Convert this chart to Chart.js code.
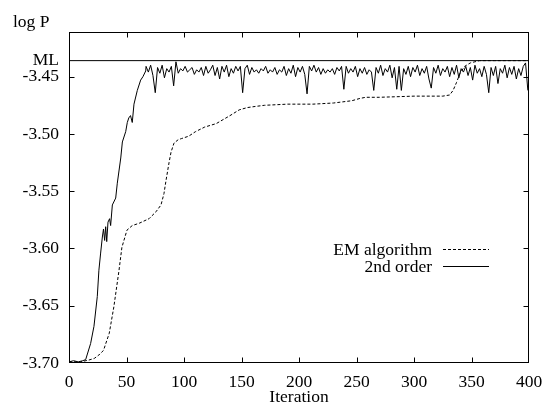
<!DOCTYPE html>
<html>
<head>
<meta charset="utf-8">
<title>log P vs Iteration</title>
<script src="https://cdn.jsdelivr.net/npm/chart.js@4.4.0/dist/chart.umd.min.js"></script>
<style>
  html, body { margin: 0; padding: 0; background: #fff; }
  #wrap { width: 542px; height: 404px; }
</style>
</head>
<body>
<div id="wrap"><canvas id="logpChart" width="542" height="404"></canvas></div>
<script>
// values
const mlValue = -3.436;

const xTicks = [0, 50, 100, 150, 200, 250, 300, 350, 400];
const yTicks = [-3.70, -3.65, -3.60, -3.55, -3.50, -3.45];

// EM algorithm (dashed)
const emIter = [0, 10, 17, 22, 26, 30, 35, 39, 43.5, 46, 50.4, 55, 61, 69.6, 75.6, 80, 82.6, 84.3,
    87, 88.7, 91.3, 95, 98, 104, 110, 118, 128, 140, 148, 155, 162, 170, 190, 212, 230, 238,
    246, 253, 258, 270, 300, 325, 331, 334, 337, 340, 344, 349, 353, 357, 370, 400];
const emLogP = [-3.699, -3.699, -3.6975, -3.696, -3.693, -3.689, -3.674, -3.651, -3.619, -3.599, -3.584, -3.580, -3.578, -3.574, -3.568, -3.562, -3.552, -3.541,
    -3.525, -3.516, -3.508, -3.505, -3.504, -3.502, -3.498, -3.494, -3.491, -3.484, -3.479, -3.477, -3.476, -3.475, -3.474, -3.474, -3.473, -3.472,
    -3.471, -3.469, -3.468, -3.468, -3.467, -3.467, -3.466, -3.462, -3.455, -3.447, -3.441, -3.438, -3.437, -3.436, -3.436, -3.436];

// 2nd order, the steep rise
const riseIter = [0, 4, 8, 12, 14.5, 18.8, 21.7, 24.6, 26, 27.5, 29, 30, 31, 31.9, 32.8, 33.9, 35.3, 36.2,
    37.7, 40.6, 42, 45, 46.4, 49.3, 50.7, 52, 53.5, 55, 56.5, 59.4, 62.3, 64.3, 66.7];
const riseLogP = [-3.699, -3.698, -3.699, -3.698, -3.697, -3.683, -3.668, -3.642, -3.619, -3.604, -3.590, -3.583, -3.593, -3.581, -3.594, -3.577, -3.574, -3.580,
    -3.562, -3.556, -3.543, -3.521, -3.507, -3.498, -3.490, -3.486, -3.484, -3.490, -3.474, -3.462, -3.453, -3.450, -3.445];

// 2nd order, the noisy plateau, every 2nd iteration from 67
const plateauStart = 67;
const plateauLogP = [
    -3.441, -3.446, -3.440, -3.449, -3.464, -3.442, -3.447, -3.440, -3.451, -3.443,
    -3.446, -3.441, -3.458, -3.437, -3.447, -3.443, -3.445, -3.441, -3.446, -3.444,
    -3.442, -3.448, -3.444, -3.446, -3.442, -3.449, -3.441, -3.447, -3.444, -3.440,
    -3.449, -3.442, -3.452, -3.441, -3.446, -3.440, -3.450, -3.443, -3.447, -3.441,
    -3.445, -3.441, -3.464, -3.443, -3.440, -3.448, -3.442, -3.446, -3.444, -3.447,
    -3.443, -3.445, -3.441, -3.447, -3.444, -3.446, -3.442, -3.448, -3.444, -3.446,
    -3.441, -3.449, -3.443, -3.447, -3.440, -3.450, -3.442, -3.446, -3.441, -3.448,
    -3.465, -3.441, -3.445, -3.440, -3.446, -3.442, -3.448, -3.443, -3.447, -3.444,
    -3.446, -3.443, -3.448, -3.442, -3.445, -3.441, -3.461, -3.441, -3.447, -3.443,
    -3.446, -3.441, -3.450, -3.443, -3.447, -3.442, -3.448, -3.444, -3.446, -3.462,
    -3.442, -3.447, -3.440, -3.449, -3.443, -3.446, -3.440, -3.451, -3.442, -3.461,
    -3.441, -3.462, -3.443, -3.448, -3.441, -3.450, -3.442, -3.446, -3.440, -3.449,
    -3.443, -3.447, -3.441, -3.452, -3.460, -3.442, -3.447, -3.440, -3.449, -3.443,
    -3.446, -3.441, -3.450, -3.442, -3.448, -3.440, -3.451, -3.443, -3.446, -3.441,
    -3.449, -3.442, -3.453, -3.440, -3.447, -3.443, -3.450, -3.441, -3.448, -3.464,
    -3.442, -3.449, -3.441, -3.456, -3.443, -3.447, -3.440, -3.451, -3.442, -3.448,
    -3.441, -3.452, -3.443, -3.449, -3.441, -3.438, -3.462
];

const FONT = '"Liberation Serif", "Times New Roman", serif';
const FONT_SIZE = 17.5;

function toPoints(xs, ys) {
    return xs.map((x, i) => ({ x: x, y: ys[i] }));
}

const secondOrder = toPoints(riseIter, riseLogP).concat(
    plateauLogP.map((v, k) => ({ x: plateauStart + 2 * k, y: v }))
);

// frame, inward ticks, axis titles and the key
const decorations = {
    id: 'decorations',
    afterDraw(chart) {
        const c = chart.ctx;
        const a = chart.chartArea;
        const xs = chart.scales.x;
        const ys = chart.scales.y;
        const L = Math.round(a.left) + 0.5, R = Math.round(a.right) - 0.5;
        const T = Math.round(a.top) + 0.5, B = Math.round(a.bottom) - 0.5;
        const tick = 5;

        c.save();
        c.strokeStyle = '#000';
        c.lineWidth = 1;
        c.setLineDash([]);
        c.strokeRect(L, T, R - L, B - T);

        c.beginPath();
        xTicks.forEach(v => {
            const px = Math.round(xs.getPixelForValue(v)) + 0.5;
            if (v > xTicks[0] && v < xTicks[xTicks.length - 1]) {
                c.moveTo(px, B); c.lineTo(px, B - tick);
                c.moveTo(px, T); c.lineTo(px, T + tick);
            }
        });
        yTicks.forEach(v => {
            const py = Math.round(ys.getPixelForValue(v)) + 0.5;
            if (v > yTicks[0]) {
                c.moveTo(L, py); c.lineTo(L + tick, py);
                c.moveTo(R, py); c.lineTo(R - tick, py);
            }
        });
        c.stroke();

        c.fillStyle = '#000';
        c.font = FONT_SIZE + 'px ' + FONT;
        c.textBaseline = 'alphabetic';
        c.textAlign = 'left';
        c.fillText('log P', 13, 26.5);
        c.textAlign = 'center';
        c.fillText('Iteration', (a.left + a.right) / 2, 402);

        // key: text right-aligned, line sample after it
        const keyTextRight = 432, sampleLeft = 443, sampleRight = 489;
        const keyRows = [249.5, 266.5];
        [0, 1].forEach(i => {
            const ds = chart.data.datasets[i];
            const y = keyRows[i];
            c.textAlign = 'right';
            c.textBaseline = 'middle';
            c.fillText(ds.label, keyTextRight, y + 1);
            c.beginPath();
            c.setLineDash(ds.borderDash || []);
            c.moveTo(sampleLeft, y);
            c.lineTo(sampleRight, y);
            c.stroke();
        });
        c.restore();
    }
};

const ctx = document.getElementById('logpChart').getContext('2d');

const logpChart = new Chart(ctx, {
    type: 'line',
    data: {
        datasets: [{
            label: 'EM algorithm',
            data: toPoints(emIter, emLogP),
            borderColor: '#000',
            borderWidth: 1,
            borderDash: [3, 2],
            pointRadius: 0,
            tension: 0
        }, {
            label: '2nd order',
            data: secondOrder,
            borderColor: '#000',
            borderWidth: 1,
            pointRadius: 0,
            tension: 0
        }, {
            label: 'ML',
            data: [{ x: 0, y: mlValue }, { x: 400, y: mlValue }],
            borderColor: '#000',
            borderWidth: 1,
            pointRadius: 0
        }]
    },
    options: {
        responsive: false,
        animation: false,
        layout: { padding: { top: 32, right: 13, left: 0, bottom: 0 } },
        plugins: {
            legend: { display: false },
            tooltip: { enabled: false }
        },
        scales: {
            x: {
                type: 'linear',
                min: 0,
                max: 400,
                grid: { display: false, drawTicks: false },
                border: { display: false },
                afterBuildTicks: scale => { scale.ticks = xTicks.map(v => ({ value: v })); },
                afterFit: scale => {
                    scale.height = 41;
                    scale.paddingLeft = 0;
                    scale.paddingRight = 0;
                },
                ticks: {
                    color: '#000',
                    padding: 9,
                    maxRotation: 0,
                    font: { family: FONT, size: FONT_SIZE }
                }
            },
            y: {
                type: 'linear',
                min: -3.70,
                max: -3.411,
                grid: { display: false, drawTicks: false },
                border: { display: false },
                afterBuildTicks: scale => {
                    scale.ticks = yTicks.concat([mlValue]).map(v => ({ value: v }));
                },
                afterFit: scale => {
                    scale.width = 69;
                    scale.paddingTop = 0;
                    scale.paddingBottom = 0;
                },
                ticks: {
                    color: '#000',
                    padding: 10,
                    font: { family: FONT, size: FONT_SIZE },
                    callback: v => (v === mlValue ? 'ML' : v.toFixed(2))
                }
            }
        }
    },
    plugins: [decorations]
});
</script>
</body>
</html>
